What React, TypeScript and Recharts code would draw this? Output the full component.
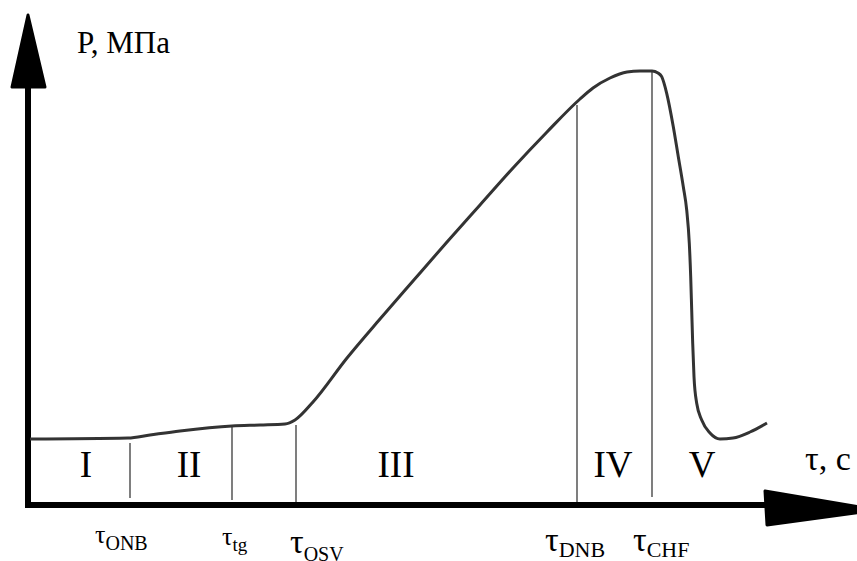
import { LineChart, Line, XAxis, YAxis, ReferenceLine, ReferenceDot } from "recharts";

// curve: time (arbitrary units) vs pressure (arbitrary units)
const tau = [2, 100, 122, 152, 204, 232, 257, 267, 285, 319, 352, 385, 419, 452, 485, 519, 552, 565, 582, 599, 612, 624, 630, 633.7, 638.7, 645.3, 650.3, 655.3, 658.7, 661.3, 662.7, 663.7, 664.7, 666, 668.7, 673.7, 682, 692, 705, 722, 739];
const pressure = [66, 67, 70, 74, 79, 80, 81, 85, 103, 147, 186, 224, 263, 300, 337, 373, 406, 417, 427, 433, 434, 434, 432, 428.3, 411.7, 378.3, 348.3, 318.3, 295, 261.7, 228.3, 195, 161.7, 128.3, 101.7, 85, 72, 66, 67, 73, 82];

// characteristic moments
const events = ["ONB", "tg", "OSV", "DNB", "CHF"];
const eventTau = [102, 204, 268, 549, 624];
const eventTop = [62, 78, 80, 400, 434];
const eventBottom = [7, 5, 0, 3, 8];

// regimes
const phases = ["I", "II", "III", "IV", "V"];
const phaseTau = [58, 161, 368, 585, 674];

const FONT = '"Liberation Serif", "Times New Roman", serif';
const W = 857;
const H = 561;

// where the τ labels sit under the axis
const tauLabelAt = [
  { x: 67, y: -38, big: 26, small: 20, dy: 7 },
  { x: 194, y: -40, big: 26, small: 19, dy: 6 },
  { x: 262, y: -48, big: 34, small: 20, dy: 8 },
  { x: 517, y: -46, big: 34, small: 22, dy: 6 },
  { x: 605, y: -46, big: 34, small: 22, dy: 6 },
];

const data = tau.map((t, i) => ({ tau: t, p: pressure[i] }));

const YArrow = ({ cx, cy }: any) => (
  <polygon
    points={`${cx},${cy} ${cx - 16},${cy + 72} ${cx + 17},${cy + 72}`}
    fill="#000"
    stroke="#000"
    strokeWidth={3}
    strokeLinejoin="round"
  />
);

const XArrow = ({ cx, cy }: any) => (
  <polygon
    points={`${cx},${cy} ${cx - 113},${cy - 19} ${cx - 111},${cy + 15}`}
    fill="#000"
    stroke="#000"
    strokeWidth={3}
    strokeLinejoin="round"
  />
);

const textAt = (content: React.ReactNode, size: number, anchor = "start") =>
  ({ cx, cy }: any) => (
    <text x={cx} y={cy} fontSize={size} fontFamily={FONT} fill="#000" textAnchor={anchor}>
      {content}
    </text>
  );

export default function App() {
  return (
    <div style={{ position: "absolute", left: 0, top: 0, width: W, height: H, background: "#fff" }}>
      <LineChart width={W} height={H} data={data} margin={{ top: 0, right: 0, bottom: 56, left: 28 }}>
        <XAxis type="number" dataKey="tau" domain={[0, 829]} hide allowDataOverflow />
        <YAxis type="number" domain={[0, 505]} hide allowDataOverflow />

        {events.map((e, i) => (
          <ReferenceLine
            key={e}
            ifOverflow="visible"
            segment={[
              { x: eventTau[i], y: eventBottom[i] },
              { x: eventTau[i], y: eventTop[i] },
            ]}
            stroke="#3a3a3a"
            strokeWidth={1.3}
          />
        ))}

        <ReferenceLine
          ifOverflow="visible"
          segment={[{ x: 0, y: -3 }, { x: 0, y: 422 }]}
          stroke="#000"
          strokeWidth={6}
        />
        <ReferenceLine
          ifOverflow="visible"
          segment={[{ x: -3, y: 0 }, { x: 745, y: 0 }]}
          stroke="#000"
          strokeWidth={6}
        />
        <ReferenceDot x={0} y={490} ifOverflow="visible" shape={YArrow} />
        <ReferenceDot x={850} y={-5} ifOverflow="visible" shape={XArrow} />

        <Line
          type="monotone"
          dataKey="p"
          stroke="#333"
          strokeWidth={3}
          dot={false}
          isAnimationActive={false}
        />

        {phases.map((ph, i) => (
          <ReferenceDot
            key={ph}
            x={phaseTau[i]}
            y={28}
            ifOverflow="visible"
            shape={textAt(ph, 37, "middle")}
          />
        ))}

        {events.map((e, i) => {
          const l = tauLabelAt[i];
          return (
            <ReferenceDot
              key={"l" + e}
              x={l.x}
              y={l.y}
              ifOverflow="visible"
              shape={textAt(
                <>
                  <tspan fontSize={l.big}>τ</tspan>
                  <tspan fontSize={l.small} dy={l.dy}>{e}</tspan>
                </>,
                l.big
              )}
            />
          );
        })}

        <ReferenceDot x={49} y={452} ifOverflow="visible" shape={textAt("P, МПа", 31)} />
        <ReferenceDot x={777} y={35} ifOverflow="visible" shape={textAt("τ, с", 34)} />
      </LineChart>
    </div>
  );
}
